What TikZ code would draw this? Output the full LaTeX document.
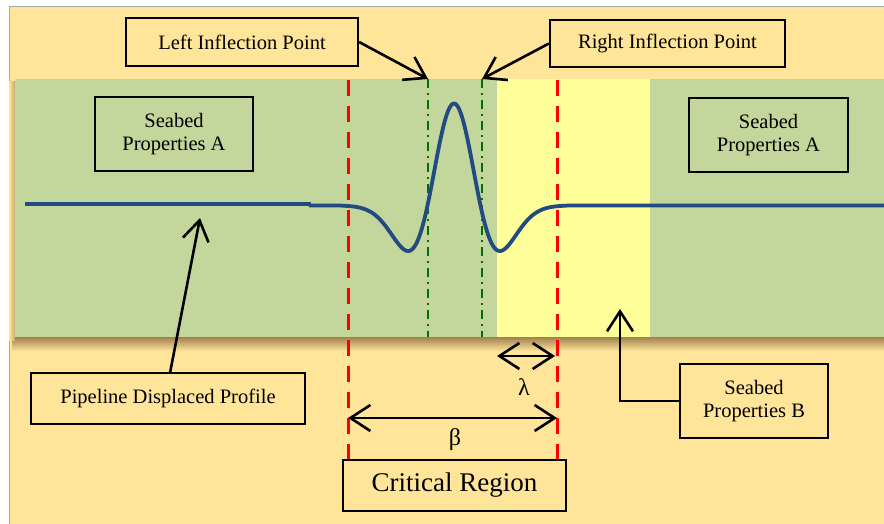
\documentclass[tikz,border=0pt]{standalone}
\usepackage{fontspec}
\setmainfont{Liberation Serif}
\usetikzlibrary{arrows.meta}
\definecolor{beige}{RGB}{255,229,153}
\definecolor{sgreen}{RGB}{195,214,155}
\definecolor{syellow}{RGB}{255,255,153}
\definecolor{pipe}{RGB}{36,74,130}
\definecolor{dgreen}{RGB}{0,112,0}
\definecolor{shadowc}{RGB}{160,128,78}
\begin{document}
\begin{tikzpicture}[x=1pt,y=-1pt,
  declare function={rk(\t)=(1-\t*\t)*exp(-\t*\t/2);},
  box/.style={draw=black,line width=2.2pt,align=center,inner sep=0pt,
    font=\fontsize{20.5}{23}\selectfont},
  arr/.style={line width=2.6pt,-{Straight Barb[length=20pt,width=26pt]}},
  dbl/.style={line width=2.6pt,{Straight Barb[length=20pt,width=26pt]}-{Straight Barb[length=20pt,width=26pt]}},
  reddash/.style={red,line width=3pt,dash pattern=on 16pt off 10pt},
  greendd/.style={dgreen,line width=1.8pt,dash pattern=on 9pt off 5pt on 2pt off 5pt},
  greek/.style={inner sep=0pt,font=\fontsize{24}{26}\selectfont}
]
\useasboundingbox (0,0) rectangle (884,524);
% frame
\fill[white] (0,0) rectangle (884,524);
\fill[beige] (9,7) rectangle (890,530);
\draw[gray!70,line width=1pt] (9,530) -- (9,7) -- (890,7);
% shadow and bands
\shade[top color=shadowc,bottom color=beige] (12,337) rectangle (884,351);
\shade[left color=beige,right color=shadowc!60!beige] (9,82) rectangle (15,340);
\fill[sgreen] (15,79) rectangle (884,337);
\fill[syellow] (497,79) rectangle (650,337);
% inflection lines
\coordinate (lip) at (428,79);
\coordinate (rip) at (482,79);
\draw[greendd] (lip) -- (428,337);
\draw[greendd] (rip) -- (482,337);
% pipeline
\draw[pipe,line width=3.8pt] (25,204) -- (311,204);
\draw[pipe,line width=3.8pt,line join=round] (309,205.5)
  -- plot[domain=310:600,samples=260,smooth] (\x,{205.5-102*rk((\x-454)/26.5)})
  -- (884,205.5);
% boxes
\node[box,minimum width=232pt,minimum height=48pt] (lif) at (242,42) {Left Inflection Point};
\node[box,minimum width=235pt,minimum height=47pt] (rif) at (667.5,43.5) {Right Inflection Point};
\node[box,minimum width=158pt,minimum height=74pt] (sa1) at (174,134) {Seabed\\Properties A};
\node[box,minimum width=159pt,minimum height=74pt] (sa2) at (768.5,135) {Seabed\\Properties A};
\node[box,fill=beige,minimum width=274pt,minimum height=51pt] (pdp) at (168,398.5) {Pipeline Displaced Profile};
\node[box,fill=beige,minimum width=148pt,minimum height=74pt] (sb) at (754,401) {Seabed\\Properties B};
\node[box,fill=beige,minimum width=223pt,minimum height=51pt,font=\fontsize{27}{30}\selectfont] (crit) at (454.5,485.5) {Critical Region};
% red dashed boundaries
\coordinate (ra) at (348,80);
\coordinate (rb) at (557,80);
\draw[reddash] (ra) -- (ra |- crit.north);
\draw[reddash] (rb) -- (rb |- crit.north);
% arrows
\coordinate (ptip) at (200,218);
\coordinate (btip) at (620,309);
\draw[arr] (lif.east) -- (lip);
\draw[arr] (rif.west) -- (rip);
\draw[arr] (170,373) -- (ptip);
\draw[arr,line join=miter] (sb.west) -| (btip);
% dimensions
\coordinate (l1) at (497,356);
\coordinate (l2) at (555,356);
\coordinate (b1) at (348,418);
\coordinate (b2) at (557,418);
\draw[dbl] (l1) -- (l2);
\draw[dbl] (b1) -- (b2);
\node[greek] (lam) at (524,387) {λ};
\node[greek] (bet) at (455,440) {β};
\end{tikzpicture}
\end{document}
